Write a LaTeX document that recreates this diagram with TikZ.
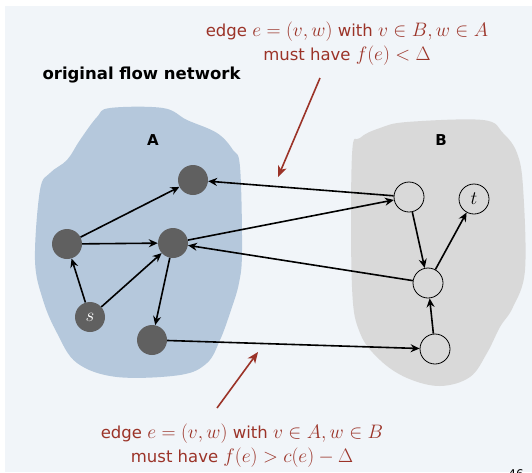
\RequirePackage{fix-cm}
\documentclass[tikz,border=0pt]{standalone}
\usepackage{fontspec}
\setsansfont{DejaVu Sans}
\usetikzlibrary{arrows.meta}
\definecolor{bg}{HTML}{F1F5F9}
\definecolor{blobA}{HTML}{B5C8DC}
\definecolor{blobB}{HTML}{D9D9D9}
\definecolor{nodeG}{HTML}{606060}
\definecolor{redT}{HTML}{9B3328}
\newcommand{\bm}[1]{{\fontsize{19.5}{24}\selectfont$#1$}}
\tikzset{
  fullnode/.style={circle,fill=nodeG,minimum size=30pt,inner sep=0pt},
  emptynode/.style={circle,draw=black,line width=0.8pt,minimum size=30pt,inner sep=0pt},
  edge/.style={line width=1.6pt,-{Stealth[length=9pt,width=8pt,inset=3pt]}},
  redarrow/.style={redT,line width=1.6pt,-{Stealth[length=11pt,width=9pt,inset=3pt]}},
  redtext/.style={text=redT,font=\sffamily\fontsize{16.5}{24}\selectfont,align=center},
  setlabel/.style={font=\sffamily\bfseries\fontsize{15}{17}\selectfont},
}
\begin{document}
\begin{tikzpicture}[x=1pt,y=-1pt]
\useasboundingbox (0,0) rectangle (532,472);
\fill[bg] (5,6) rectangle (532,472);
% blob A
\fill[blobA] plot[smooth cycle,tension=0.6] coordinates {
 (110,108) (163,108) (187,120) (217,133) (233,150) (240,167) (242,250)
 (239,283) (230,313) (220,340) (207,363) (180,375) (117,377) (77,363)
 (57,333) (43,300) (35,260) (40,190) (50,173) (67,160) (80,140) (97,117)};
% blob B
\fill[blobB] plot[smooth cycle,tension=0.6] coordinates {
 (360,138) (380,128) (407,122) (483,120) (503,133) (517,153) (523,187)
 (525,270) (513,307) (500,327) (487,353) (470,377) (440,386) (407,378)
 (380,360) (360,333) (352,287) (352,155)};
\node[font=\sffamily\bfseries\fontsize{16.5}{18}\selectfont,anchor=west] (title) at (39,75) {original flow network};
\node[setlabel] (labA) at (153,140) {A};
\node[setlabel] (labB) at (441,140) {B};
% A nodes
\node[fullnode] (a1) at (193,180) {};
\node[fullnode] (a2) at (67,244) {};
\node[fullnode] (a3) at (173,243) {};
\node[fullnode,text=white,font=\fontsize{19}{19}\selectfont] (s) at (90,317) {$s$};
\node[fullnode] (a4) at (152,340) {};
% B nodes
\node[emptynode] (b1) at (409,197) {};
\node[emptynode,font=\fontsize{19}{19}\selectfont] (t) at (474,199) {$t$};
\node[emptynode] (b2) at (428,283) {};
\node[emptynode] (b3) at (435,349) {};
% edges
\draw[edge] (a2) -- (a1);
\draw[edge] (a2) -- (a3);
\draw[edge] (s) -- (a2);
\draw[edge] (s) -- (a3);
\draw[edge] (a3) -- (a4);
\draw[edge] (b1) -- (a1);
\draw[edge] (a3) -- (b1);
\draw[edge] (b2) -- (a3);
\draw[edge] (a4) -- (b3);
\draw[edge] (b1) -- (b2);
\draw[edge] (b2) -- (t);
\draw[edge] (b3) -- (b2);
% annotations
\node[redtext] (top) at (347,44) {edge \bm{e = (v, w)} with \bm{v \in B, w \in A}\\ must have \bm{f(e) < \Delta}};
\coordinate (topS) at (320,78);
\coordinate (topE) at (278,177);
\draw[redarrow] (topS) -- (topE);
\node[redtext] (bot) at (242,446) {edge \bm{e = (v, w)} with \bm{v \in A, w \in B}\\ must have \bm{f(e) > c(e) - \Delta}};
\coordinate (botS) at (217,408);
\coordinate (botE) at (258,352);
\draw[redarrow] (botS) -- (botE);
\node[font=\sffamily\fontsize{12}{14}\selectfont] (pg) at (516,474) {46};
\end{tikzpicture}
\end{document}
